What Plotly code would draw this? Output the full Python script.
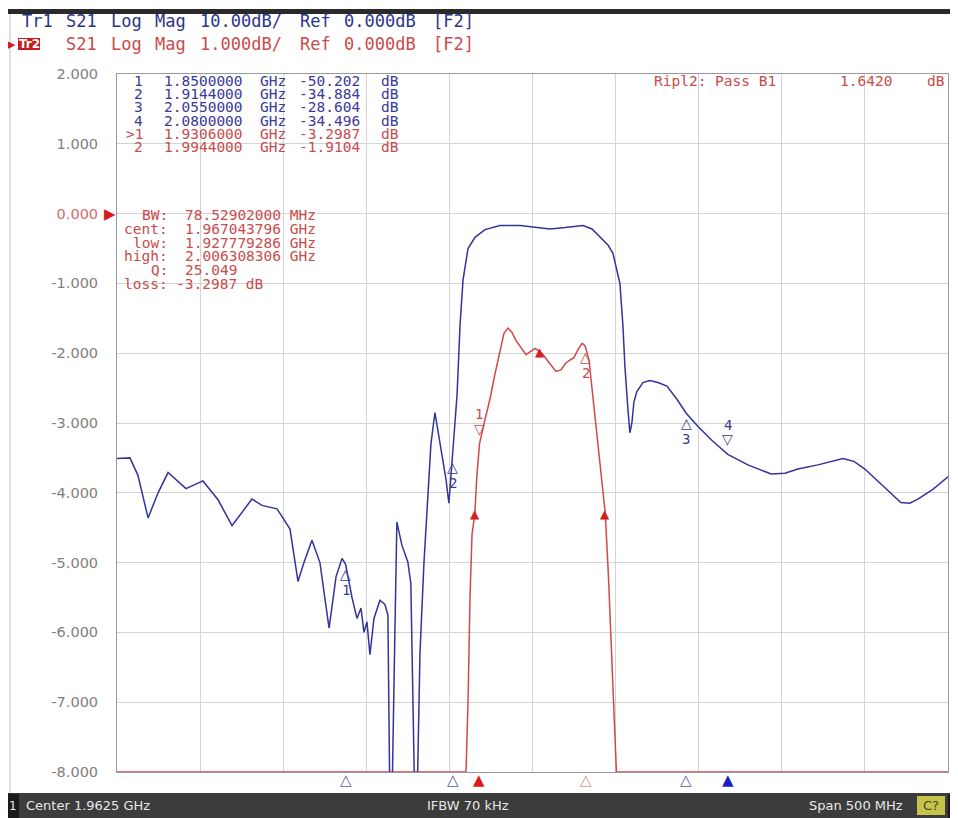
import plotly.graph_objects as go

# ---------------- data ----------------
# Tr1 (blue) S21, dB, 10 dB/div
blue_f = [1.7125, 1.7203, 1.7251, 1.7312, 1.7372, 1.7432, 1.7540, 1.7642, 1.7733, 1.7817,
          1.7937, 1.7997, 1.8088, 1.8166, 1.8214, 1.8250, 1.8298, 1.8346, 1.8401, 1.8443,
          1.8479, 1.8500, 1.8539, 1.8569, 1.8593, 1.8611, 1.8629, 1.8647, 1.8671, 1.8707,
          1.8737, 1.8755, 1.8767, 1.8779, 1.8797, 1.8809, 1.8839, 1.8875, 1.8893, 1.8905,
          1.8917, 1.8930, 1.8948, 1.8972, 1.8990, 1.9014, 1.9038, 1.9068, 1.9104, 1.9122,
          1.9144, 1.9171, 1.9189, 1.9207, 1.9237, 1.9279, 1.9339, 1.9429, 1.9550, 1.9640,
          1.9730, 1.9821, 1.9929, 1.9983, 2.0031, 2.0079, 2.0109, 2.0133, 2.0151, 2.0169,
          2.0181, 2.0199, 2.0211, 2.0223, 2.0235, 2.0253, 2.0289, 2.0331, 2.0380, 2.0434,
          2.0494, 2.0550, 2.0621, 2.0705, 2.0800, 2.0921, 2.1060, 2.1144, 2.1222, 2.1342,
          2.1493, 2.1559, 2.1625, 2.1733, 2.1841, 2.1895, 2.1944, 2.2034, 2.2125]
blue_db = [-35.1, -35.0, -37.5, -43.6, -40.0, -37.1, -39.4, -38.3, -41.0, -44.7,
           -40.9, -41.8, -42.3, -45.2, -52.7, -50.0, -46.8, -50.0, -59.4, -52.0,
           -49.4, -50.2, -55.0, -58.0, -56.5, -60.0, -58.5, -63.2, -58.0, -55.4,
           -56.0, -57.5, -85.0, -85.0, -60.0, -44.2, -47.5, -49.9, -53.0, -70.0,
           -85.0, -85.0, -63.0, -50.0, -43.0, -33.0, -28.5, -33.0, -38.0, -41.5,
           -34.884, -26.0, -16.0, -9.5, -5.0, -3.4, -2.3, -1.7, -1.7, -1.9,
           -2.2, -2.0, -1.7, -2.2, -3.4, -4.5, -5.7, -8.0, -10.0, -16.0,
           -21.9, -28.0, -31.4, -30.0, -27.0, -25.5, -24.2, -23.9, -24.2, -24.7,
           -26.6, -28.604, -30.5, -32.5, -34.496, -36.0, -37.3, -37.2, -36.6, -36.0,
           -35.1, -35.5, -36.6, -39.0, -41.4, -41.5, -40.9, -39.5, -37.7]

# Tr2 (red) S21, dB, 1 dB/div (values below -8 dB shown at the bottom edge)
red_f = [1.7125, 1.9225, 1.9237, 1.9249, 1.9261, 1.9278, 1.9289, 1.9306, 1.9339, 1.9369,
         1.9399, 1.9429, 1.9453, 1.9477, 1.9501, 1.9526, 1.9550, 1.9586, 1.9616, 1.9640,
         1.9664, 1.9688, 1.9730, 1.9766, 1.9796, 1.9826, 1.9850, 1.9875, 1.9899, 1.9923,
         1.9935, 1.9944, 1.9965, 1.9983, 2.0007, 2.0031, 2.0049, 2.0063, 2.0082, 2.0100,
         2.0118, 2.0130, 2.2125]
red_db = [-8.0, -8.0, -7.0, -5.5, -4.6, -4.2987, -3.8, -3.2987, -2.95, -2.66,
          -2.3, -1.95, -1.72, -1.64, -1.70, -1.82, -1.90, -2.02, -1.97, -1.93,
          -1.97, -2.02, -2.15, -2.26, -2.24, -2.14, -2.10, -2.06, -1.95, -1.86,
          -1.88, -1.9104, -2.1, -2.5, -3.0, -3.52, -3.95, -4.2987, -5.2, -6.3,
          -7.5, -8.0, -8.0]

# markers
blue_mk_num = ["1", "2", "3", "4"]
blue_mk_f = [1.85, 1.9144, 2.055, 2.08]
blue_mk_db = [-50.202, -34.884, -28.604, -34.496]
blue_active = 3
red_mk_num = ["1", "2"]
red_mk_f = [1.9306, 1.9944]
red_mk_db = [-3.2987, -1.9104]
red_active = 0

# bandwidth search results
bw_mhz = 78.52902
bw_cent = 1.967043796
bw_low = 1.927779286
bw_high = 2.006308306
bw_q = 25.049
bw_loss = -3.2987
bw_level = -4.2987
cent_level = -1.98
ripple_db = 1.6420

# axis / status
y_ticks = [2, 1, 0, -1, -2, -3, -4, -5, -6, -7, -8]
x_start, x_stop = 1.7125, 2.2125
center_ghz = 1.9625
span_mhz = 500
ifbw_khz = 70

# ---------------- style ----------------
W, H = 958, 818          # browser window
OFF = 8                  # page body margin
FW, FH = W - OFF, H - OFF
PL, PR, PT, PB = 117, 948, 74, 772   # plot area in window pixels
BLUE_TR = "#33339c"
RED_TR = "#d24848"
BLUE_TX = "#3a3a98"
RED_TX = "#c84c4c"
GRID = "#d4d4d4"
AX_TX = "#808080"
MONO = "DejaVu Sans Mono"
SANS = "DejaVu Sans"
TS = 14.5   # table font size


def px(x):
    return (x - PL) / (PR - PL)


def py(y):
    return (PB - y) / (PB - PT)


fig = go.Figure()
fig.add_trace(go.Scatter(x=blue_f, y=blue_db, yaxis="y2", mode="lines",
                         line=dict(color=BLUE_TR, width=1.5), hoverinfo="skip"))
fig.add_trace(go.Scatter(x=red_f, y=red_db, mode="lines",
                         line=dict(color=RED_TR, width=1.5), hoverinfo="skip"))

ann = []


def txt(x, y, s, color, size=TS, family=MONO, xanchor="left", **kw):
    ann.append(dict(x=px(x), y=py(y), xref="paper", yref="paper", text=s, showarrow=False,
                    xanchor=xanchor, yanchor="middle", font=dict(family=family, size=size, color=color), **kw))


# header
hdr_x = [20, 64, 109, 153, 198, 298, 342, 431]
tr1 = ["Tr1", "S21", "Log", "Mag", "10.00dB/", "Ref", "0.000dB", "[F2]"]
tr2 = ["Tr2", "S21", "Log", "Mag", "1.000dB/", "Ref", "0.000dB", "[F2]"]
for xx, s in zip(hdr_x, tr1):
    txt(xx, 21, s, "#2c3488", size=17)
for i, (xx, s) in enumerate(zip(hdr_x, tr2)):
    if i == 0:
        continue
    txt(xx, 44, s, RED_TX, size=17)

# marker table
rows_y = [81, 94, 107, 121, 134, 147]
for i in range(4):
    y = rows_y[i]
    txt(145, y, blue_mk_num[i], BLUE_TX, xanchor="right")
    txt(162, y, f"{blue_mk_f[i]:.7f}", BLUE_TX)
    txt(258, y, "GHz", BLUE_TX)
    txt(297, y, f"{blue_mk_db[i]:.3f}", BLUE_TX)
    txt(379, y, "dB", BLUE_TX)
for j in range(2):
    y = rows_y[4 + j]
    lab = (">" if j == red_active else "") + red_mk_num[j]
    txt(145, y, lab, RED_TX, xanchor="right")
    txt(162, y, f"{red_mk_f[j]:.7f}", RED_TX)
    txt(258, y, "GHz", RED_TX)
    txt(297, y, f"{red_mk_db[j]:.4f}", RED_TX)
    txt(379, y, "dB", RED_TX)

# bandwidth block
bw_rows = [("BW:", f"{bw_mhz:.8f} MHz"), ("cent:", f"{bw_cent:.9f} GHz"),
           ("low:", f"{bw_low:.9f} GHz"), ("high:", f"{bw_high:.9f} GHz"),
           ("Q:", f"{bw_q:.3f}"), ("loss:", f"{bw_loss:.4f} dB")]
bw_y = [215, 229, 243, 256, 270, 284]
for (lab, val), y in zip(bw_rows, bw_y):
    txt(170, y, lab, RED_TX, xanchor="right")
    txt(174 if val.startswith("-") else 183, y, val, RED_TX)

# ripple
txt(652, 81, "Ripl2: Pass B1", RED_TX)
txt(838, 81, f"{ripple_db:.4f}", RED_TX)
txt(925, 81, "dB", RED_TX)

# on-trace markers
for i in range(4):
    if i == blue_active:
        g, gs, ns = "▽", 15, 29
    else:
        g, gs, ns = "△", -10, -26
    ann.append(dict(x=blue_mk_f[i], y=blue_mk_db[i], xref="x", yref="y2", text=g, showarrow=False,
                    yshift=gs, font=dict(family=SANS, size=14, color=BLUE_TX)))
    ann.append(dict(x=blue_mk_f[i], y=blue_mk_db[i], xref="x", yref="y2", text=blue_mk_num[i],
                    showarrow=False, yshift=ns, font=dict(family=MONO, size=14, color=BLUE_TX)))
for j in range(2):
    if j == red_active:
        g, gs, ns = "▽", 15, 30
    else:
        g, gs, ns = "△", -10, -26
    ann.append(dict(x=red_mk_f[j], y=red_mk_db[j], xref="x", yref="y", text=g, showarrow=False,
                    yshift=gs, font=dict(family=SANS, size=14, color=RED_TX)))
    ann.append(dict(x=red_mk_f[j], y=red_mk_db[j], xref="x", yref="y", text=red_mk_num[j],
                    showarrow=False, yshift=ns, font=dict(family=MONO, size=14, color=RED_TX)))

# bandwidth markers (filled)
for f, lv in [(bw_low, bw_level), (bw_high, bw_level), (bw_cent, cent_level)]:
    ann.append(dict(x=f, y=lv, xref="x", yref="y", text="▲", showarrow=False,
                    font=dict(family=SANS, size=12, color="#d42020")))

# marker position indicators below the grid
for i in range(4):
    g = "▲" if i == blue_active else "△"
    ann.append(dict(x=blue_mk_f[i], y=py(780), xref="x", yref="paper", text=g, showarrow=False,
                    yanchor="middle", font=dict(family=SANS, size=15,
                                                color="#1c1cc8" if i == blue_active else "#5a5aa8")))
for j in range(2):
    g = "▲" if j == red_active else "△"
    ann.append(dict(x=red_mk_f[j], y=py(780), xref="x", yref="paper", text=g, showarrow=False,
                    yanchor="middle", font=dict(family=SANS, size=15,
                                                color="#e01818" if j == red_active else "#d89090")))

# trace end labels
ann.append(dict(x=x_stop, y=blue_db[-1], xref="x", yref="y2", text="1", showarrow=False,
                xanchor="left", xshift=0, font=dict(family=MONO, size=13, color=BLUE_TX)))
ann.append(dict(x=x_stop, y=red_db[-1], xref="x", yref="y", text="2", showarrow=False,
                xanchor="left", xshift=0, font=dict(family=MONO, size=13, color=RED_TX)))

# reference-level arrows
ann.append(dict(x=px(PL + 1), y=0, xref="paper", yref="y", text="▶", showarrow=False, xanchor="right",
                font=dict(family=SANS, size=15, color="#d81c1c")))
ann.append(dict(x=px(949), y=0, xref="paper", yref="y", text="◀", showarrow=False, xanchor="left",
                font=dict(family=SANS, size=15, color="#d81c1c")))
txt(18, 44, "▶", "#d81c1c", size=11, family=SANS, xanchor="right")
txt(29, 44, "<b>Tr2</b>", "#ffffff", size=12, family=SANS, xanchor="center")

# status bar
txt(13, 806, "1", "#e8e8e8", size=12, family=SANS, xanchor="center")
txt(24, 806, f"Center {center_ghz:.4f} GHz", "#e8e8e8", size=13, family=SANS)
txt(468, 806, f"IFBW {ifbw_khz} kHz", "#e8e8e8", size=13, family=SANS, xanchor="center")
txt(905, 806, f"Span {span_mhz} MHz", "#e8e8e8", size=13, family=SANS, xanchor="right")
txt(931, 806, "C?", "#3a4a20", size=13, family=SANS, xanchor="center")

shapes = [
    dict(type="rect", xref="paper", yref="paper", x0=px(0), x1=px(W), y0=py(9), y1=py(14),
         fillcolor="#2a2a2a", line=dict(width=0), layer="above"),
    dict(type="rect", xref="paper", yref="paper", x0=px(0), x1=px(W), y0=py(793), y1=py(H),
         fillcolor="#3c3c3c", line=dict(width=0), layer="above"),
    dict(type="rect", xref="paper", yref="paper", x0=px(0), x1=px(19), y0=py(794), y1=py(H),
         fillcolor="#1a1a1a", line=dict(width=0), layer="above"),
    dict(type="rect", xref="paper", yref="paper", x0=px(917), x1=px(945), y0=py(796), y1=py(815),
         fillcolor="#c6c24a", line=dict(width=0), layer="above"),
    dict(type="rect", xref="paper", yref="paper", x0=px(948), x1=px(W), y0=py(794), y1=py(H),
         fillcolor="#1a1a1a", line=dict(width=0), layer="above"),
    dict(type="rect", xref="paper", yref="paper", x0=px(18), x1=px(40), y0=py(50), y1=py(38),
         fillcolor="#c81c1c", line=dict(width=0), layer="below"),
    dict(type="line", xref="paper", yref="paper", x0=px(10), x1=px(10), y0=py(14), y1=py(793),
         line=dict(color="#c0c0c0", width=1), layer="below"),
]

tick_text = [f"{v:.3f}" if v != 0 else "<span style='color:#d46a6a'>0.000</span>" for v in y_ticks]

fig.update_layout(
    width=FW, height=FH, autosize=False,
    margin=dict(l=PL - OFF, r=W - PR, t=PT - OFF, b=H - PB, pad=0),
    paper_bgcolor="white", plot_bgcolor="white",
    showlegend=False,
    xaxis=dict(range=[x_start, x_stop], tick0=x_start, dtick=0.05, showgrid=True, gridcolor=GRID,
               gridwidth=1, showticklabels=False, zeroline=False, ticks="", showline=True,
               mirror=True, linecolor="#999999", linewidth=1, layer="below traces"),
    yaxis=dict(range=[-8, 2], tickvals=y_ticks, ticktext=tick_text, showgrid=True, gridcolor=GRID,
               gridwidth=1, zeroline=False, ticks="", showline=True, mirror=True, linecolor="#999999",
               linewidth=1, layer="below traces", ticklabelstandoff=15,
               tickfont=dict(family=SANS, size=14.5, color=AX_TX)),
    yaxis2=dict(range=[-80, 20], overlaying="y", visible=False),
    annotations=ann,
    shapes=shapes,
)

fig.write_html("out.html")
